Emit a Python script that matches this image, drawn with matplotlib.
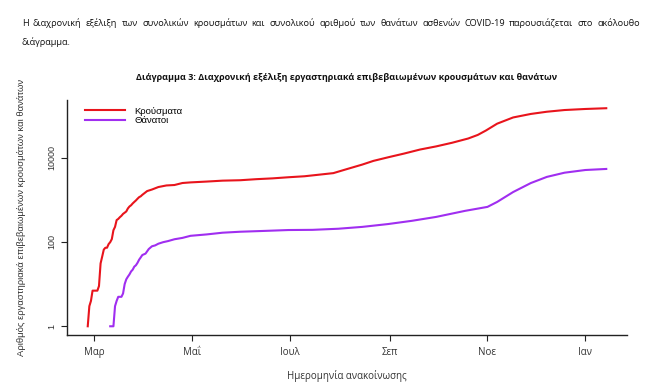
import numpy as np
import pandas as pd
import matplotlib
matplotlib.use("Agg")
import matplotlib.pyplot as plt
import matplotlib.dates as mdates
from matplotlib.ticker import NullLocator

# cumulative confirmed cases (log scale)
case_dates = ["2020-02-26", "2020-02-27", "2020-02-28", "2020-02-29", "2020-03-01", "2020-03-02",
              "2020-03-03", "2020-03-04", "2020-03-05", "2020-03-06", "2020-03-07", "2020-03-08",
              "2020-03-09", "2020-03-10", "2020-03-11", "2020-03-12", "2020-03-13", "2020-03-14",
              "2020-03-15", "2020-03-16", "2020-03-17", "2020-03-18", "2020-03-19", "2020-03-20",
              "2020-03-21", "2020-03-22", "2020-03-23", "2020-03-24", "2020-03-25", "2020-03-26",
              "2020-03-27", "2020-03-28", "2020-03-29", "2020-03-30", "2020-03-31", "2020-04-03",
              "2020-04-06", "2020-04-10", "2020-04-15", "2020-04-20", "2020-04-25", "2020-04-30",
              "2020-05-10", "2020-05-20", "2020-05-31", "2020-06-10", "2020-06-20", "2020-06-30",
              "2020-07-10", "2020-07-20", "2020-07-28", "2020-08-05", "2020-08-15", "2020-08-22",
              "2020-09-01", "2020-09-10", "2020-09-20", "2020-09-30", "2020-10-10", "2020-10-20",
              "2020-10-26", "2020-10-31", "2020-11-07", "2020-11-17", "2020-11-28", "2020-12-08",
              "2020-12-19", "2021-01-01", "2021-01-14"]
cases = [1, 3, 4, 7, 7, 7,
         7, 9, 31, 45, 66, 73,
         73, 89, 99, 117, 190, 228,
         331, 352, 387, 418, 464, 495,
         530, 624, 695, 743, 821, 892,
         966, 1061, 1156, 1212, 1314, 1613,
         1755, 2011, 2192, 2245, 2506, 2591,
         2710, 2850, 2917, 3089, 3227, 3432,
         3622, 3983, 4300, 5300, 6858, 8400,
         10400, 12500, 15600, 18500, 22600, 28500,
         34700, 44000, 64000, 90000, 109000, 123000,
         135000, 143000, 149000]

# cumulative deaths
death_dates = ["2020-03-11", "2020-03-12", "2020-03-13", "2020-03-14", "2020-03-15", "2020-03-16",
               "2020-03-17", "2020-03-18", "2020-03-19", "2020-03-20", "2020-03-21", "2020-03-22",
               "2020-03-23", "2020-03-24", "2020-03-25", "2020-03-26", "2020-03-27", "2020-03-28",
               "2020-03-29", "2020-03-30", "2020-03-31", "2020-04-02", "2020-04-04", "2020-04-06",
               "2020-04-08", "2020-04-10", "2020-04-13", "2020-04-16", "2020-04-20", "2020-04-25",
               "2020-04-30", "2020-05-10", "2020-05-20", "2020-05-31", "2020-06-15", "2020-06-30",
               "2020-07-15", "2020-07-31", "2020-08-15", "2020-08-31", "2020-09-15", "2020-09-30",
               "2020-10-18", "2020-11-01", "2020-11-07", "2020-11-17", "2020-11-28", "2020-12-08",
               "2020-12-19", "2021-01-01", "2021-01-14"]
deaths = [1, 1, 1, 3, 4, 5,
          5, 5, 6, 10, 13, 15,
          17, 20, 22, 26, 28, 32,
          38, 43, 49, 53, 68, 79,
          83, 91, 99, 105, 116, 125,
          140, 151, 166, 175, 183, 192,
          194, 206, 228, 266, 318, 393,
          547, 680, 890, 1530, 2500, 3500,
          4400, 5100, 5400]

tick_dates = ["2020-03-01", "2020-05-01", "2020-07-01", "2020-09-01", "2020-11-01", "2021-01-01"]
tick_labels = ["Μαρ", "Μαΐ", "Ιουλ", "Σεπ", "Νοε", "Ιαν"]
y_ticks = [1, 100, 10000]

header_1 = ("Η διαχρονική εξέλιξη των συνολικών κρουσμάτων και συνολικού αριθμού των θανάτων "
            "ασθενών COVID-19 παρουσιάζεται στο ακόλουθο")
header_2 = "διάγραμμα."
title = "Διάγραμμα 3: Διαχρονική εξέλιξη εργαστηριακά επιβεβαιωμένων κρουσμάτων και θανάτων"

doc_font = ["Liberation Sans Narrow", "Open Sans", "DejaVu Sans"]

W, H = 662, 383
fig = plt.figure(figsize=(W / 100, H / 100), dpi=100)
ax = fig.add_axes([67 / W, 1 - 335 / H, 560 / W, 235.5 / H])

red = "#e8141c"
purple = "#a02ef0"
ax.plot(pd.to_datetime(case_dates), cases, color=red, lw=1.5, label="Κρούσματα")
ax.plot(pd.to_datetime(death_dates), deaths, color=purple, lw=1.5, label="Θάνατοι")
ax.set_yscale("log")
ax.margins(x=0.04, y=0.04)

for s in ["top", "right"]:
    ax.spines[s].set_visible(False)
for s in ["left", "bottom"]:
    ax.spines[s].set_linewidth(1.0)
    ax.spines[s].set_color("#222222")

ax.set_xticks(pd.to_datetime(tick_dates))
ax.set_xticklabels(tick_labels, fontfamily=doc_font, fontsize=7, color="#333333")
ax.set_yticks(y_ticks)
ax.set_yticklabels([str(v) for v in y_ticks], rotation=90, va="center",
                   fontfamily="Liberation Sans", fontsize=6.5, color="#333333")
ax.yaxis.set_minor_locator(NullLocator())
ax.tick_params(axis="x", length=4.5, width=0.8, pad=4, colors="#222222")
ax.tick_params(axis="y", length=4.5, width=0.8, pad=3, colors="#222222")
for lab in ax.get_xticklabels() + ax.get_yticklabels():
    lab.set_color("#333333")

ax.set_xlabel("Ημερομηνία ανακοίνωσης", fontfamily=doc_font, fontsize=7, color="#333333", labelpad=9)
fig.text(22 / W, 1 - 217 / H, "Αριθμός εργαστηριακά επιβεβαιωμένων κρουσμάτων και θανάτων",
         rotation=90, ha="center", va="center", fontfamily="Liberation Sans", fontsize=6.8,
         color="#333333")

ax.legend(loc="upper left", bbox_to_anchor=(18 / 560, 1 - 7 / 235.5), frameon=False,
          prop={"family": "Liberation Sans", "size": 6.8}, handlelength=4.2,
          handletextpad=1.0, labelspacing=0.1, borderpad=0, borderaxespad=0)

renderer = fig.canvas.get_renderer()

# title fitted to its width in the reference
t = fig.text(347 / W, 1 - 77 / H, title, ha="center", va="center", fontfamily=doc_font,
             fontweight="bold", fontsize=10, color="#111111")
t.set_fontsize(10 * 422 / t.get_window_extent(renderer).width)

# header: size the whole line to ~590 px, then justify word by word to 22..640 px
x0, x1 = 22, 640
probe = fig.text(0.5, 0.5, header_1, fontfamily=doc_font, fontsize=10)
size = 10 * 590 / probe.get_window_extent(renderer).width
probe.remove()

words = header_1.split(" ")
objs = [fig.text(0.5, 0.5, wd, fontfamily=doc_font, fontsize=size, color="#111111",
                 va="center") for wd in words]
widths = [o.get_window_extent(renderer).width for o in objs]
gap = (x1 - x0 - sum(widths)) / (len(words) - 1)
x = x0
for o, wd in zip(objs, widths):
    o.set_position((x / W, 1 - 23 / H))
    x += wd + gap
fig.text(x0 / W, 1 - 42 / H, header_2, fontfamily=doc_font, fontsize=size, color="#111111",
         va="center")

fig.savefig("out.png", dpi=100)
